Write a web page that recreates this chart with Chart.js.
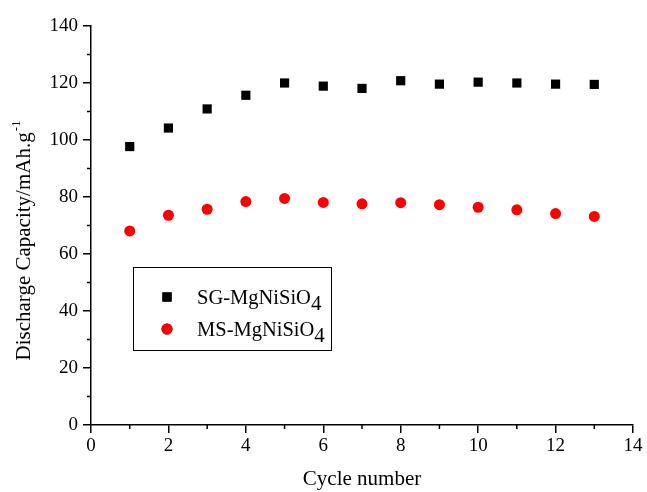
<!DOCTYPE html>
<html>
<head>
<meta charset="utf-8">
<script src="https://cdn.jsdelivr.net/npm/chart.js@4.4.0/dist/chart.umd.min.js"></script>
<style>
  body { margin: 0; background: #fff; }
  #wrap { width: 647px; height: 492px; }
</style>
</head>
<body>
<div id="wrap"><canvas id="capChart" width="647" height="492"></canvas></div>
<script>
// cycle number vs discharge capacity (mAh/g)
const cycles = [1, 2, 3, 4, 5, 6, 7, 8, 9, 10, 11, 12, 13];
const sgValues = [97.7, 104.2, 110.9, 115.7, 120.0, 118.9, 118.1, 120.8, 119.6, 120.3, 120.0, 119.6, 119.5];
const msValues = [68.1, 73.6, 75.7, 78.4, 79.5, 78.1, 77.6, 78.0, 77.3, 76.4, 75.5, 74.2, 73.2];
const seriesNames = ['SG-MgNiSiO', 'MS-MgNiSiO'];
const xTitle = 'Cycle number';
const yTitle = 'Discharge Capacity/mAh.g';

const serif = '"Liberation Serif", "Times New Roman", serif';

// minor ticks + rotated y title + boxed legend
const extrasPlugin = {
    id: 'extras',
    afterDraw(chart) {
        const ctx = chart.ctx;
        const xs = chart.scales.x, ys = chart.scales.y;
        ctx.save();
        ctx.strokeStyle = '#000';
        ctx.lineWidth = 1.5;
        ctx.beginPath();
        for (let v = xs.min + 1; v < xs.max; v += 2) {
            const px = xs.getPixelForValue(v);
            ctx.moveTo(px, xs.top);
            ctx.lineTo(px, xs.top + 4);
        }
        for (let v = ys.min + 10; v < ys.max; v += 20) {
            const py = ys.getPixelForValue(v);
            ctx.moveTo(ys.right, py);
            ctx.lineTo(ys.right - 4, py);
        }
        ctx.stroke();

        // y title with superscript
        ctx.fillStyle = '#000';
        ctx.translate(30, 241);
        ctx.rotate(-Math.PI / 2);
        ctx.font = '21px ' + serif;
        const w = ctx.measureText(yTitle).width;
        ctx.font = '13px ' + serif;
        const ws = ctx.measureText('-1').width;
        const x0 = -(w + ws) / 2;
        ctx.font = '21px ' + serif;
        ctx.textBaseline = 'alphabetic';
        ctx.fillText(yTitle, x0, 0);
        ctx.font = '13px ' + serif;
        ctx.fillText('-1', x0 + w + 1, -10);
        ctx.restore();

        // legend
        ctx.save();
        ctx.strokeStyle = '#000';
        ctx.lineWidth = 1;
        ctx.strokeRect(133.5, 267.5, 198, 83);
        const sets = chart.data.datasets;
        const rows = [297, 329];
        sets.forEach((ds, i) => {
            const y = rows[i];
            Chart.helpers.drawPoint(ctx, {
                pointStyle: ds.pointStyle,
                radius: ds.pointRadius,
                borderWidth: 0
            }, 167, y);
            ctx.fillStyle = ds.backgroundColor;
            ctx.fill();
            ctx.fillStyle = '#000';
            ctx.font = '20.5px ' + serif;
            ctx.textBaseline = 'alphabetic';
            const name = seriesNames[i];
            ctx.fillText(name, 197, y + 7);
            const nw = ctx.measureText(name).width;
            ctx.font = '21px ' + serif;
            ctx.fillText('4', 197 + nw, y + 13);
        });
        ctx.restore();
    }
};

const ctx = document.getElementById('capChart').getContext('2d');
const capChart = new Chart(ctx, {
    type: 'scatter',
    data: {
        datasets: [{
            label: seriesNames[0] + '4',
            data: cycles.map((c, i) => ({ x: c, y: sgValues[i] })),
            pointStyle: 'rect',
            pointRadius: 6.5,
            pointBorderWidth: 0,
            backgroundColor: '#000',
            borderColor: '#000'
        }, {
            label: seriesNames[1] + '4',
            data: cycles.map((c, i) => ({ x: c, y: msValues[i] })),
            pointStyle: 'circle',
            pointRadius: 5.5,
            pointBorderWidth: 0,
            backgroundColor: '#ff0000',
            borderColor: '#ff0000'
        }]
    },
    options: {
        responsive: false,
        animation: false,
        devicePixelRatio: 1,
        layout: { padding: { left: 0, right: 14, top: 26, bottom: 0 } },
        plugins: {
            legend: { display: false },
            tooltip: { enabled: false }
        },
        scales: {
            x: {
                type: 'linear',
                min: 0,
                max: 14,
                afterFit: (scale) => { scale.height = 67; },
                border: { display: true, color: '#000', width: 1.5 },
                grid: { drawOnChartArea: false, drawTicks: true, tickLength: 8, color: '#000', lineWidth: 1.5 },
                ticks: { stepSize: 2, color: '#000', padding: 2, font: { family: serif, size: 19 } },
                title: {
                    display: true,
                    text: xTitle,
                    color: '#000',
                    font: { family: serif, size: 21 },
                    padding: { top: 6, bottom: 0 }
                }
            },
            y: {
                min: 0,
                max: 140,
                afterFit: (scale) => { scale.width = 91; },
                border: { display: true, color: '#000', width: 1.5 },
                grid: { drawOnChartArea: false, drawTicks: true, tickLength: 8, color: '#000', lineWidth: 1.5 },
                ticks: { stepSize: 20, color: '#000', padding: 5, font: { family: serif, size: 19 } }
            }
        }
    },
    plugins: [extrasPlugin]
});
</script>
</body>
</html>
